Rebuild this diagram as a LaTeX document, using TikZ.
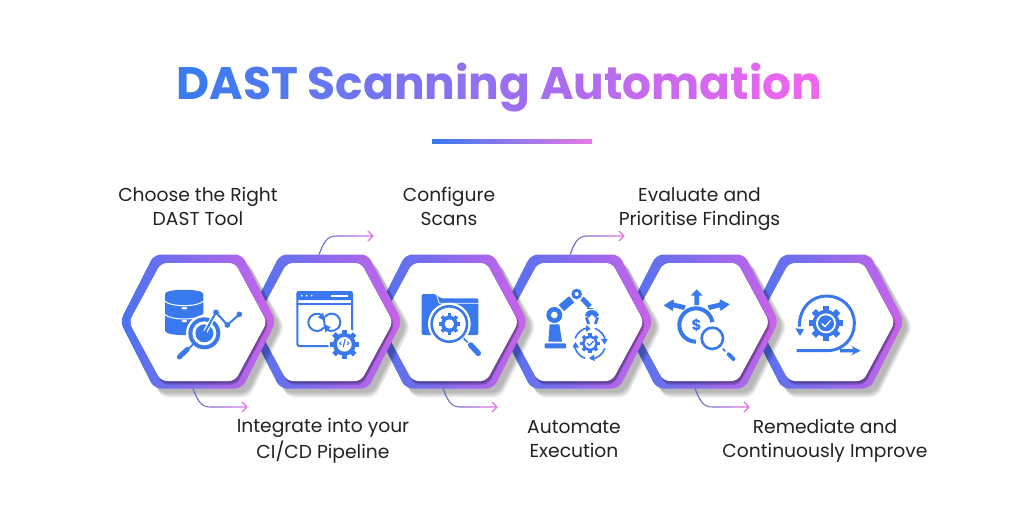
\documentclass[tikz,border=0pt]{standalone}
\usepackage{fontspec}
\setmainfont{Poppins}
\usetikzlibrary{calc}
\definecolor{ic}{HTML}{3A78EE}
\definecolor{ringL}{HTML}{4A74F0}
\definecolor{ringM}{HTML}{7C62E6}
\definecolor{ringR}{HTML}{CB62EA}
\definecolor{connA}{HTML}{5F70C8}
\definecolor{connB}{HTML}{E878E4}
\definecolor{lab}{HTML}{222222}
\newcommand\hexP[5]{(#1-#3,#2) -- (#1-#5,#2-#4) -- (#1+#5,#2-#4) -- (#1+#3,#2) -- (#1+#5,#2+#4) -- (#1-#5,#2+#4) -- cycle}
\newcommand\hexa[2]{%
  \foreach \s in {0,1,...,5}{\fill[black,opacity=.05,rounded corners=7pt] \hexP{#1+5}{#2+5}{77+\s}{66+\s}{44+\s*.5};}
  \shade[left color=ringL,middle color=ringM,right color=ringR,rounded corners=7pt] \hexP{#1}{#2}{78}{67}{44};
  \foreach \s in {0,1,2,3}{\fill[black!70!ringM,opacity=.14,rounded corners=6pt] \hexP{#1+1.5}{#2+2.5}{68+\s*.6}{59+\s*.7}{37};}
  \fill[white,rounded corners=6pt] \hexP{#1}{#2+.5}{69}{59}{37};
}
% connector: node, anchor, x offset, direction
\newcommand\gconn[4]{%
  \begin{scope}[shift={($(#1.#2)+(#3,0)$)}]
  \foreach \i in {0,1,...,17}{%
    \pgfmathtruncatemacro\p{\i*100/17}
    \begin{scope}
      \clip (\i*3.1-1,-30) rectangle (\i*3.1+2.4,30);
      \draw[connB!\p!connA,line width=1.1pt,line join=round]
        (0,0) .. controls (4,#4*10) and (7,#4*18.5) .. (17,#4*18.5) -- (54,#4*18.5)
        (49,#4*18.5-5) -- (54,#4*18.5) -- (49,#4*18.5+5);
    \end{scope}}
  \end{scope}}
\newcommand\gearat[3]{%
  \fill[ic] (#1,#2) circle ({.78*#3});
  \foreach \a in {0,45,...,315}{\fill[ic,rotate around={\a:(#1,#2)}] (#1-.17*#3,#2-#3) rectangle (#1+.17*#3,#2);}
}
\newcommand\arcat[5]{([shift={(#4:#3)}]#1,#2) arc[start angle=#4,end angle=#5,radius=#3]}
\tikzset{
  hexanchor/.style={minimum width=156pt,minimum height=134pt,inner sep=0pt,outer sep=0pt},
  labeltext/.style={text=lab,align=center,inner sep=0pt,font=\fontsize{18.7}{24}\selectfont},
  icscope/.style={x=.33333pt,y=-.33333pt},
  icl/.style={draw=ic,line cap=round,line join=round}
}
\newcommand\tc[2]{\textcolor[HTML]{#1}{#2}}
\begin{document}
\begin{tikzpicture}[x=1pt,y=-1pt]
\useasboundingbox (0,0) rectangle (1024,521);
\fill[white] (0,0) rectangle (1024,521);
% title
\node[inner sep=0pt,anchor=base,font=\fontsize{45.5}{50}\selectfont\bfseries] (title) at (499.5,100) {\tc{3A7BF0}{D}\tc{437AF0}{A}\tc{4C79F0}{S}\tc{5378F0}{T} \tc{6476F0}{S}\tc{6D75F0}{c}\tc{7474F0}{a}\tc{7D73F0}{n}\tc{8672F0}{n}\tc{8E71F0}{i}\tc{9370F0}{n}\tc{9C6FF0}{g} \tc{AB6DEF}{A}\tc{B46CEF}{u}\tc{BB6BEF}{t}\tc{C36AEF}{o}\tc{CC69EE}{m}\tc{D668EE}{a}\tc{DE67EE}{t}\tc{E367EE}{i}\tc{E966EE}{o}\tc{EE65EE}{n}};
\shade[left color=ic,middle color=ringR!70!ringM,right color=connB] (432,140) rectangle (592,144);
% hexagons, right to left
\hexa{826}{321.5}
\hexa{700.5}{321.5}
\hexa{575}{321.5}
\hexa{449.5}{321.5}
\hexa{324}{321.5}
\hexa{198}{321.5}
\node[hexanchor] (h1) at (198,321.5) {};
\node[hexanchor] (h2) at (324,321.5) {};
\node[hexanchor] (h3) at (449.5,321.5) {};
\node[hexanchor] (h4) at (575,321.5) {};
\node[hexanchor] (h5) at (700.5,321.5) {};
\node[hexanchor] (h6) at (826,321.5) {};
% connectors
\gconn{h1}{south}{-5}{1}
\gconn{h2}{north}{-5}{-1}
\gconn{h3}{south}{-6.5}{1}
\gconn{h4}{north}{-5}{-1}
\gconn{h5}{south}{-5.5}{1}
% labels
\node[labeltext] (t1) at (198,209) {\strut Choose the Right\\\strut DAST Tool};
\node[labeltext] (t2) at (323,440.5) {\strut Integrate into your\\\strut CI/CD Pipeline};
\node[labeltext] (t3) at (449,209) {\strut Configure\\\strut Scans};
\node[labeltext] (t4) at (574,440.5) {\strut Automate\\\strut Execution};
\node[labeltext] (t5) at (699.5,209) {\strut Evaluate and\\\strut Prioritise Findings};
\node[labeltext] (t6) at (825,440.5) {\strut Remediate and\\\strut Continuously Improve};
% ---- icons, in zoom coordinates
\begin{scope}[shift={(110,230)},icscope]
 % database
 \fill[ic] (165,192) .. controls (165,175) and (280,175) .. (280,192) -- (280,302) .. controls (280,320) and (165,320) .. (165,302) -- cycle;
 \draw[white,line width=1pt] (163,212) .. controls (180,232) and (265,232) .. (282,212);
 \draw[white,line width=1pt] (163,252) .. controls (180,272) and (265,272) .. (282,252);
 \fill[white,rounded corners=1pt] (215,231) rectangle (231,238);
 \fill[white,rounded corners=1pt] (215,269) rectangle (231,276);
 % magnifier
 \fill[white] (283,310) circle (55);
 \fill[ic] (283,310) circle (48);
 \fill[white] (283,310) circle (36);
 \fill[ic] (283,310) circle (27);
 \draw[icl,line width=1.8pt] (248,344) -- (238,354);
 \draw[icl,line width=5pt] (232,358) -- (208,381);
 % chart
 \draw[white,line width=4.5pt,line join=round] (283,310) -- (318,247) -- (352,285) -- (388,253);
 \draw[icl,line width=2pt] (283,310) -- (318,247) -- (352,285) -- (388,253);
 \foreach \cx/\cy in {283/310,318/247,352/285,388/253}{\fill[ic] (\cx,\cy) circle (8.5);}
 % window
 \draw[icl,line width=2pt,rounded corners=2pt] (726,300) -- (726,186) -- (562,186) -- (562,348) -- (660,348);
 \fill[ic,rounded corners=2pt] (560,183) rectangle (728,210);
 \foreach \dx in {575,590,605}{\fill[white] (\dx,197) circle (2.8);}
 \fill[white] (662,194) rectangle (715,200);
 \draw[icl,line width=1.8pt] (562,222) -- (726,222);
 \draw[icl,line width=2pt] \arcat{621}{277}{26}{40}{320};
 \draw[icl,line width=2pt] \arcat{665}{277}{26}{-140}{140};
 \draw[icl,line width=2pt] (641,260) -- (645,294);
 \fill[ic] (645,308) -- (662,292) -- (646,284) -- cycle;
 \fill[ic] (640,248) -- (624,262) -- (639,270) -- cycle;
 \fill[white] (703,343) circle (48);
 \gearat{703}{343}{44}
 \fill[white] (703,343) circle (22);
 \node[text=ic,inner sep=0pt,font=\fontsize{7.5}{8}\selectfont\bfseries] (codetag) at (703,342) {</>};
\end{scope}
\begin{scope}[shift={(380,230)},icscope]
 % folder
 \fill[ic,rounded corners=2pt] (125,192) -- (168,192) -- (180,205) -- (295,205) -- (295,315) -- (125,315) -- cycle;
 \draw[white,line width=.8pt] (170,195) -- (178,220) -- (296,220);
 \fill[white] (208,282) circle (64);
 \fill[ic] (208,282) circle (57);
 \fill[white] (208,282) circle (49);
 \gearat{208}{282}{32}
 \fill[white] (208,282) circle (14);
 \draw[icl,line width=1.6pt] (252,326) -- (262,336);
 \draw[icl,line width=5.5pt] (272,345) -- (295,370);
 % robot
 \fill[ic,rounded corners=1pt] (494,340) rectangle (558,355);
 \fill[ic] (509,283) -- (538,283) -- (546,335) -- (505,335) -- cycle;
 \fill[ic] (523,255) circle (24);
 \fill[white] (523,255) circle (10);
 \draw[icl,line width=8pt,line cap=butt] (544,234) -- (575,208);
 \fill[ic] (590,192) circle (16);
 \fill[white] (590,192) circle (6);
 \draw[icl,line width=5pt,line cap=butt] (606,205) -- (630,230);
 \draw[icl,line width=1.5pt,line cap=butt] (620,236) -- (640,236);
 \draw[icl,line width=5pt,line cap=butt] \arcat{636}{262}{15}{-10}{-170};
 \draw[icl,line width=2.8pt,line cap=butt] (619,262) -- (626,282);
 \draw[icl,line width=2.8pt,line cap=butt] (653,262) -- (646,282);
 \foreach \a/\b in {-70/-5,20/85,110/175,200/265}{\draw[icl,line width=1.6pt] \arcat{630}{340}{47}{\a}{\b};}
 \foreach \px/\py/\qx/\qy/\rx/\ry in {673/343/683/328/663/326,627/384/644/394/642/374,586/336/578/352/597/353,632/297/618/285/618/305}{\fill[ic] (\px,\py) -- (\qx,\qy) -- (\rx,\ry) -- cycle;}
 \gearat{630}{340}{30}
 \fill[white] (630,340) circle (16);
 \draw[icl,line width=1.2pt] (622,340) -- (628,347) -- (640,334);
\end{scope}
\begin{scope}[shift={(640,230)},icscope]
 % arrows
 \fill[ic] (170,178) -- (188,197) -- (177,197) -- (177,225) -- (163,225) -- (163,197) -- (152,197) -- cycle;
 \fill[ic] (71,226) -- (100,208) -- (102,218) -- (137,226) -- (132,240) -- (100,232) -- (98,243) -- cycle;
 \fill[ic] (269,223) -- (240,208) -- (238,218) -- (203,226) -- (208,240) -- (240,232) -- (242,243) -- cycle;
 % coin
 \draw[icl,line width=4pt,line cap=butt] \arcat{168}{285}{50}{-10}{-270};
 \node[text=ic,inner sep=0pt,font=\fontsize{15}{15}\selectfont\bfseries] (dollar) at (170,285) {\$};
 \fill[white] (217,325) circle (42);
 \draw[icl,line width=2.6pt] (217,325) circle (32);
 \draw[icl,line width=1.6pt] (249,357) -- (255,363);
 \draw[icl,line width=4pt] (266,373) -- (280,387);
 % improve
 \draw[icl,line width=3pt,line cap=butt] (470,362) -- (560,362) .. controls (610,362) and (643,325) .. (643,280) .. controls (643,232) and (605,198) .. (560,198) .. controls (515,198) and (478,232) .. (478,290);
 \fill[ic] (480,318) -- (466,295) -- (492,298) -- cycle;
 \fill[ic] (662,362) -- (634,348) -- (640,357) -- (600,357) -- (600,367) -- (640,367) -- (634,376) -- cycle;
 \gearat{558}{280}{52}
 \fill[white] (558,280) circle (30);
 \fill[ic] (558,280) circle (24);
 \draw[white,line width=1.3pt,line cap=round,line join=round] (546,281) -- (555,290) -- (571,272);
\end{scope}
\end{tikzpicture}
\end{document}
